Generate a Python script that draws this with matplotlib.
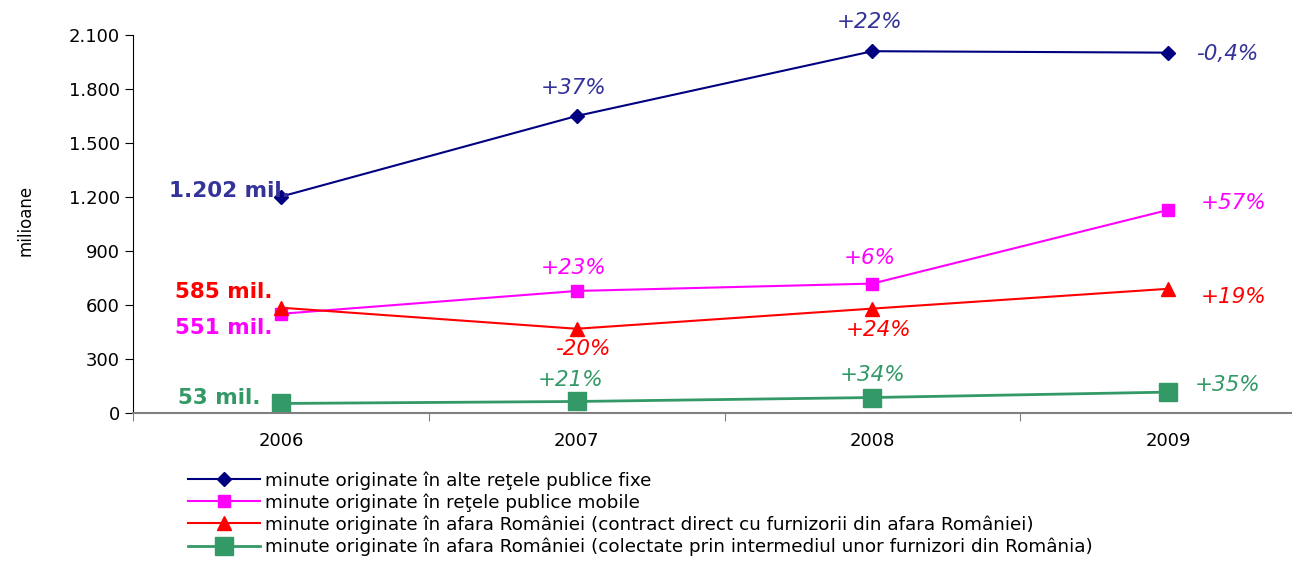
import matplotlib
matplotlib.use("Agg")
import matplotlib.pyplot as plt
from matplotlib.ticker import FuncFormatter

years = ["2006", "2007", "2008", "2009"]
fixe = [1202, 1650, 2010, 2002]
mobile = [551, 678, 719, 1128]
direct = [585, 468, 580, 690]
colect = [53, 64, 86, 116]

labels = [
    "minute originate în alte reţele publice fixe",
    "minute originate în reţele publice mobile",
    "minute originate în afara României (contract direct cu furnizorii din afara României)",
    "minute originate în afara României (colectate prin intermediul unor furnizori din România)",
]
pct_fixe = ["+37%", "+22%", "-0,4%"]
pct_mobile = ["+23%", "+6%", "+57%"]
pct_direct = ["-20%", "+24%", "+19%"]
pct_colect = ["+21%", "+34%", "+35%"]
start_labels = ["1.202 mil.", "551 mil.", "585 mil.", "53 mil."]

plt.rcParams["font.family"] = ["DejaVu Sans"]

W, H = 1292, 575
fig = plt.figure(figsize=(W / 100, H / 100), dpi=100)
left, right = 133, 1316
bottom, top = 413, 35
ax = fig.add_axes([left / W, 1 - bottom / H, (right - left) / W, (bottom - top) / H])

x = list(range(len(years)))
c_fixe, c_mob, c_dir, c_col = "#000080", "#FF00FF", "#FF0000", "#339966"
ax.plot(x, fixe, color=c_fixe, lw=1.5, marker="D", ms=7, label=labels[0])
ax.plot(x, mobile, color=c_mob, lw=1.5, marker="s", ms=8, label=labels[1])
ax.plot(x, direct, color=c_dir, lw=1.5, marker="^", ms=10, label=labels[2])
ax.plot(x, colect, color=c_col, lw=2, marker="s", ms=13, label=labels[3])

ax.set_xlim(-0.5, 3.5)
ax.set_ylim(0, 2100)
ax.set_yticks(range(0, 2101, 300))
ax.yaxis.set_major_formatter(FuncFormatter(lambda v, p: f"{int(v):,}".replace(",", ".")))
ax.set_xticks([-0.5, 0.5, 1.5, 2.5, 3.5])
ax.set_xticklabels([])
ax.set_xticks(x, minor=True)
ax.set_xticklabels(years, minor=True, fontsize=13)
ax.tick_params(axis="x", which="minor", length=0, pad=14)
ax.tick_params(axis="x", which="major", length=6, color="#808080", direction="out")
ax.tick_params(axis="y", length=6, labelsize=13, direction="out")
for s in ["top", "right"]:
    ax.spines[s].set_visible(False)
ax.spines["bottom"].set_color("#808080")
ax.spines["bottom"].set_linewidth(1.5)
ax.spines["left"].set_color("black")
fig.text(25 / W, 1 - 220 / H, "milioane", rotation=90, ha="center", va="center", fontsize=12)

ann_blue = "#333399"
fs = 15.5
# start labels
ax.text(0.03, fixe[0] + 30, start_labels[0], color=ann_blue, fontsize=fs, fontweight="bold", ha="right", va="center")
ax.text(-0.03, direct[0] + 90, start_labels[2], color=c_dir, fontsize=fs, fontweight="bold", ha="right", va="center")
ax.text(-0.03, mobile[0] - 80, start_labels[1], color=c_mob, fontsize=fs, fontweight="bold", ha="right", va="center")
ax.text(-0.07, colect[0] + 30, start_labels[3], color=c_col, fontsize=fs, fontweight="bold", ha="right", va="center")

# percentage labels
it = dict(fontsize=fs, style="italic", ha="center", va="center")
ax.text(0.99, fixe[1] + 155, pct_fixe[0], color=ann_blue, **it)
ax.text(1.99, fixe[2] + 165, pct_fixe[1], color=ann_blue, **it)
ax.text(3.2, fixe[3] - 5, pct_fixe[2], color=ann_blue, **it)

ax.text(0.99, mobile[1] + 130, pct_mobile[0], color=c_mob, **it)
ax.text(1.99, mobile[2] + 140, pct_mobile[1], color=c_mob, **it)
ax.text(3.22, mobile[3] + 40, pct_mobile[2], color=c_mob, **it)

ax.text(1.02, direct[1] - 110, pct_direct[0], color=c_dir, **it)
ax.text(2.02, direct[2] - 120, pct_direct[1], color=c_dir, **it)
ax.text(3.22, direct[3] - 45, pct_direct[2], color=c_dir, **it)

ax.text(0.98, colect[1] + 120, pct_colect[0], color=c_col, **it)
ax.text(2.0, colect[2] + 125, pct_colect[1], color=c_col, **it)
ax.text(3.2, colect[3] + 40, pct_colect[2], color=c_col, **it)

fig.legend(loc="upper left", bbox_to_anchor=(188 / W, 1 - 471 / H), frameon=False,
           fontsize=13.2, handlelength=3.9, handletextpad=0.3, labelspacing=0.2,
           borderaxespad=0, borderpad=0)

fig.savefig("out.png", dpi=100)
